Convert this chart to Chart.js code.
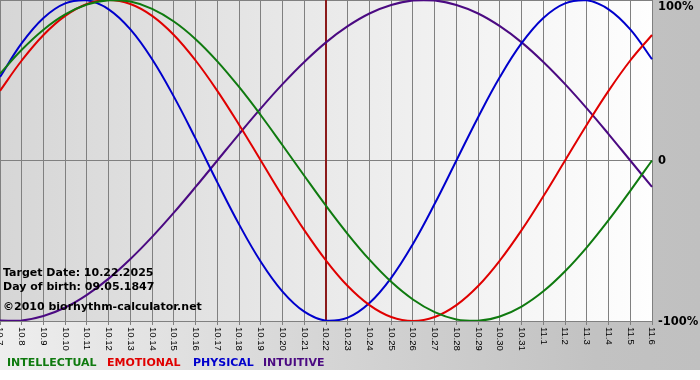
<!DOCTYPE html>
<html>
<head>
<meta charset="utf-8">
<script src="https://cdn.jsdelivr.net/npm/chart.js@4/dist/chart.umd.min.js"></script>
<style>
html,body{margin:0;padding:0;background:#ffffff;}
#wrap{position:relative;width:700px;height:380px;overflow:hidden;background:#ffffff;}
#bg{position:absolute;left:0;top:0;width:700px;height:370px;background:linear-gradient(to right,#eeeeee 0%,#d6d6d6 45%,#c2c2c2 85%,#c0c0c0 100%);}
canvas{position:absolute;left:0;top:0;}
.info{position:absolute;left:3px;font:bold 11px "DejaVu Sans",sans-serif;color:#000;white-space:nowrap;line-height:13px;}
.leg{position:absolute;top:356px;font:bold 11px "DejaVu Sans",sans-serif;white-space:nowrap;line-height:13px;}
</style>
</head>
<body>
<div id="wrap">
  <div id="bg"></div>
  <canvas id="c" width="700" height="380"></canvas>
  <div class="info" style="top:266px">Target Date: 10.22.2025</div>
  <div class="info" style="top:280px">Day of birth: 09.05.1847</div>
  <div class="info" style="top:300px">©2010 biorhythm-calculator.net</div>
  <div class="leg" style="left:7px;color:#0f7a0f">INTELLECTUAL</div>
  <div class="leg" style="left:107px;color:#e00000">EMOTIONAL</div>
  <div class="leg" style="left:193px;color:#0000cc">PHYSICAL</div>
  <div class="leg" style="left:263px;color:#4b0a82">INTUITIVE</div>
</div>
<script>
// Day labels along the x axis
const days = ['10.7','10.8','10.9','10.10','10.11','10.12','10.13','10.14','10.15','10.16','10.17','10.18','10.19','10.20','10.21','10.22','10.23','10.24','10.25','10.26','10.27','10.28','10.29','10.30','10.31','11.1','11.2','11.3','11.4','11.5','11.6'];

// Series values (percent)
const intellectual = [54.1,69.0,81.5,91.0,97.2,99.9,99.0,94.5,86.6,75.6,61.8,45.8,28.2,9.5,-9.5,-28.2,-45.8,-61.8,-75.6,-86.6,-94.5,-99.0,-99.9,-97.2,-91.0,-81.5,-69.0,-54.1,-37.2,-18.9,0];
const emotional = [43.4,62.3,78.2,90.1,97.5,100,97.5,90.1,78.2,62.3,43.4,22.3,0,-22.3,-43.4,-62.3,-78.2,-90.1,-97.5,-100,-97.5,-90.1,-78.2,-62.3,-43.4,-22.3,0,22.3,43.4,62.3,78.2];
const physical = [52.0,73.1,88.8,97.9,99.8,94.2,81.7,63.1,39.8,13.6,-13.6,-39.8,-63.1,-81.7,-94.2,-99.8,-97.9,-88.8,-73.1,-52.0,-27.0,0,27.0,52.0,73.1,88.8,97.9,99.8,94.2,81.7,63.1];
const intuitive = [-99.7,-99.7,-96.9,-91.6,-83.7,-73.6,-61.4,-47.6,-32.5,-16.5,0,16.5,32.5,47.6,61.4,73.6,83.7,91.6,96.9,99.7,99.7,96.9,91.6,83.7,73.6,61.4,47.6,32.5,16.5,0,-16.5];

// Right-hand axis ticks
const yTickValues = [100, 0, -100];
const yTickLabels = ['100%', '0', '-100%'];

// Highlighted target day
const targetDay = '10.22';

const plotBg = {
  id: 'plotBg',
  beforeDraw(chart) {
    const {ctx, chartArea: a} = chart;
    ctx.save();
    const g = ctx.createLinearGradient(a.left, 0, a.right, 0);
    g.addColorStop(0, '#d6d6d6');
    g.addColorStop(1, '#fefefe');
    ctx.fillStyle = g;
    ctx.fillRect(a.left, a.top, a.right - a.left, a.bottom - a.top);
    ctx.restore();
  }
};

const axisText = {
  id: 'axisText',
  afterDraw(chart) {
    const {ctx, chartArea: a, scales: {x, y}} = chart;
    ctx.save();
    // x labels, rotated to read downward
    ctx.fillStyle = '#000';
    ctx.font = '9.5px "Liberation Sans", Arial, sans-serif';
    ctx.textAlign = 'left';
    ctx.textBaseline = 'middle';
    days.forEach((d, i) => {
      const px = x.getPixelForValue(i);
      ctx.save();
      ctx.translate(px, a.bottom + 6);
      ctx.rotate(Math.PI / 2);
      ctx.fillText(d, 0, 0);
      ctx.restore();
    });
    // y labels on the right
    ctx.font = 'bold 11.5px "DejaVu Sans", sans-serif';
    yTickValues.forEach((v, i) => {
      let py = y.getPixelForValue(v);
      py = Math.max(py + 1, a.top + 7);
      ctx.fillText(yTickLabels[i], a.right + 6, py);
    });
    ctx.restore();
  }
};

new Chart(document.getElementById('c'), {
  type: 'line',
  data: {
    labels: days,
    datasets: [
      {label: 'INTELLECTUAL', data: intellectual, borderColor: '#0f7a0f'},
      {label: 'EMOTIONAL', data: emotional, borderColor: '#e00000'},
      {label: 'PHYSICAL', data: physical, borderColor: '#0000cc'},
      {label: 'INTUITIVE', data: intuitive, borderColor: '#4b0a82'},
      {label: 'target', data: [{x: targetDay, y: 100}, {x: targetDay, y: -100}], borderColor: '#8b1a1a', tension: 0}
    ]
  },
  options: {
    responsive: false,
    animation: false,
    devicePixelRatio: 1,
    layout: {padding: 0},
    elements: {
      line: {borderWidth: 2, tension: 0.4, fill: false},
      point: {radius: 0, hoverRadius: 0}
    },
    plugins: {legend: {display: false}, tooltip: {enabled: false}, title: {display: false}},
    scales: {
      x: {
        type: 'category',
        offset: false,
        ticks: {display: false, autoSkip: false},
        grid: {color: '#808080', lineWidth: 1, drawTicks: true, tickLength: 4, tickColor: '#808080'},
        border: {color: '#808080'},
        afterFit(s) { s.height = 59; }
      },
      y: {
        position: 'right',
        min: -100, max: 100,
        ticks: {display: false, stepSize: 100},
        grid: {color: '#808080', lineWidth: 1, drawTicks: false},
        border: {color: '#808080'},
        afterFit(s) { s.width = 48; }
      }
    }
  },
  plugins: [plotBg, axisText]
});
</script>
</body>
</html>
